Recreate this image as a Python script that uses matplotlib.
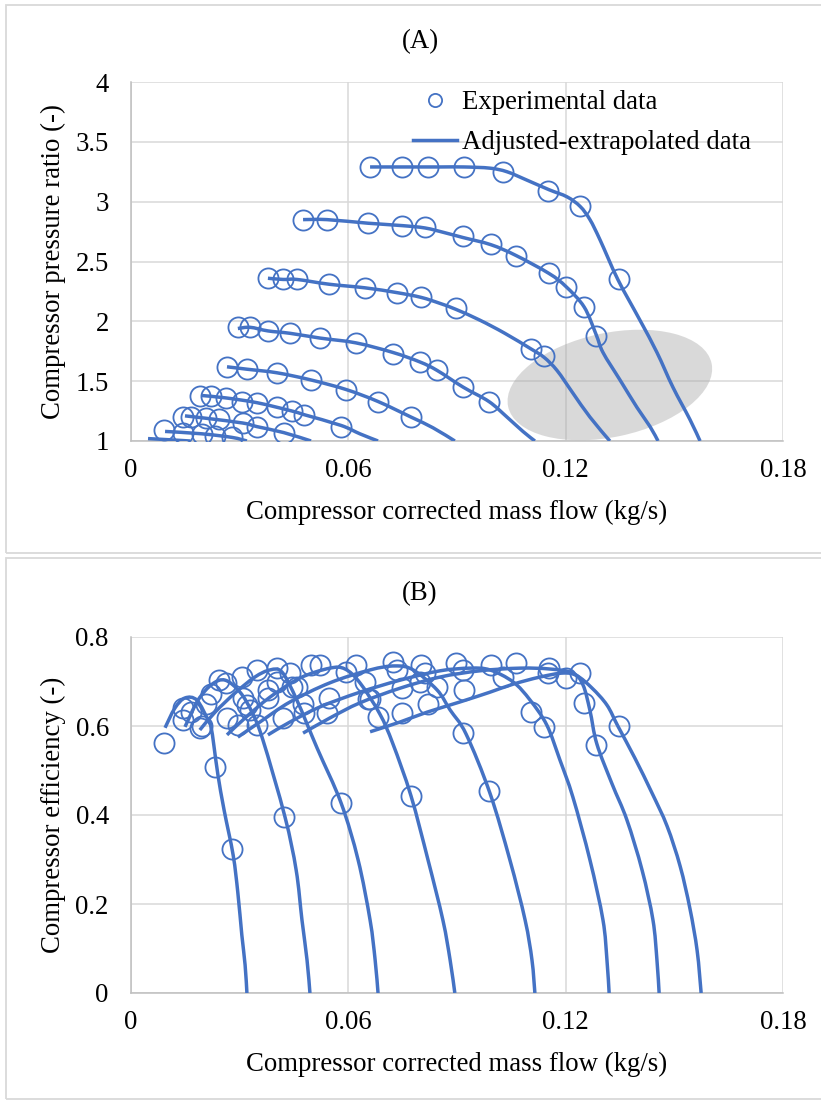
import matplotlib
matplotlib.use("Agg")
import matplotlib.pyplot as plt
from matplotlib.patches import Ellipse, Rectangle, PathPatch
from matplotlib.path import Path
from matplotlib.lines import Line2D
from matplotlib.transforms import Affine2D

plt.rcParams['font.family'] = ['Liberation Serif', 'DejaVu Serif']
plt.rcParams['font.size'] = 19.3

BLUE = '#4472C4'

# ---- (A) pressure ratio: fitted/extrapolated speed lines (top to bottom) ----
pr_line_x = [
    [0.0660, 0.0750, 0.0853, 0.0919, 0.0991, 0.1038, 0.1093, 0.1154, 0.1204, 0.1240,
     0.1267, 0.1295, 0.1344, 0.1405, 0.1452, 0.1496, 0.1543, 0.1571],
    [0.0475, 0.0541, 0.0654, 0.0748, 0.0812, 0.0867, 0.0917, 0.0994, 0.1063, 0.1154,
     0.1201, 0.1251, 0.1284, 0.1303, 0.1350, 0.1397, 0.1433, 0.1455],
    [0.0378, 0.0420, 0.0458, 0.0547, 0.0646, 0.0734, 0.0801, 0.0853, 0.0897, 0.0963,
     0.1032, 0.1104, 0.1140, 0.1176, 0.1220, 0.1267, 0.1322],
    [0.0295, 0.0329, 0.0378, 0.0439, 0.0522, 0.0621, 0.0723, 0.0798, 0.0845, 0.0917,
     0.0988, 0.1038, 0.1082, 0.1115],
    [0.0265, 0.0320, 0.0403, 0.0497, 0.0594, 0.0682, 0.0773, 0.0834, 0.0894],
    [0.0196, 0.0262, 0.0348, 0.0445, 0.0478, 0.0580, 0.0632, 0.0682],
    [0.0149, 0.0207, 0.0309, 0.0348, 0.0422, 0.0497],
    [0.0094, 0.0196, 0.0279, 0.0320],
    [0.0047, 0.0108, 0.0163],
]
pr_line_y = [
    [3.29, 3.29, 3.29, 3.29, 3.28, 3.25, 3.18, 3.10, 3.04, 2.96,
     2.85, 2.68, 2.35, 2.01, 1.74, 1.45, 1.18, 1.00],
    [2.85, 2.85, 2.82, 2.80, 2.78, 2.74, 2.70, 2.64, 2.55, 2.40,
     2.29, 2.12, 1.89, 1.74, 1.51, 1.28, 1.12, 1.00],
    [2.36, 2.35, 2.35, 2.31, 2.28, 2.24, 2.20, 2.15, 2.10, 2.01,
     1.90, 1.77, 1.70, 1.59, 1.40, 1.20, 1.00],
    [1.94, 1.95, 1.92, 1.90, 1.86, 1.82, 1.74, 1.66, 1.59, 1.45,
     1.33, 1.20, 1.08, 1.00],
    [1.62, 1.60, 1.57, 1.51, 1.43, 1.33, 1.20, 1.11, 1.00],
    [1.38, 1.36, 1.32, 1.25, 1.22, 1.13, 1.06, 1.00],
    [1.21, 1.19, 1.15, 1.12, 1.07, 1.00],
    [1.08, 1.06, 1.03, 1.00],
    [1.02, 1.01, 1.00],
]

# ---- experimental points (same mass flows in both panels) ----
exp_x = [
    [0.0660, 0.0748, 0.0820, 0.0919, 0.1027, 0.1151, 0.1239, 0.1347],
    [0.0475, 0.0541, 0.0654, 0.0748, 0.0812, 0.0917, 0.0994, 0.1063, 0.1154, 0.1201,
     0.1251, 0.1284],
    [0.0378, 0.0420, 0.0458, 0.0547, 0.0646, 0.0734, 0.0801, 0.0897, 0.1104, 0.1140],
    [0.0295, 0.0329, 0.0378, 0.0439, 0.0522, 0.0621, 0.0723, 0.0798, 0.0845, 0.0917,
     0.0988],
    [0.0265, 0.0320, 0.0403, 0.0497, 0.0594, 0.0682, 0.0773],
    [0.0190, 0.0221, 0.0262, 0.0306, 0.0348, 0.0403, 0.0445, 0.0478, 0.0580],
    [0.0144, 0.0166, 0.0207, 0.0243, 0.0309, 0.0348, 0.0422],
    [0.0091, 0.0144, 0.0196, 0.0232, 0.0279],
]
exp_pr = [
    [3.29, 3.29, 3.29, 3.29, 3.25, 3.09, 2.96, 2.35],
    [2.85, 2.85, 2.82, 2.80, 2.79, 2.71, 2.65, 2.55, 2.40, 2.29, 2.12, 1.88],
    [2.36, 2.35, 2.35, 2.31, 2.28, 2.24, 2.20, 2.11, 1.77, 1.71],
    [1.95, 1.95, 1.92, 1.90, 1.86, 1.82, 1.73, 1.66, 1.59, 1.45, 1.33],
    [1.62, 1.60, 1.57, 1.51, 1.43, 1.33, 1.20],
    [1.38, 1.38, 1.36, 1.33, 1.32, 1.28, 1.25, 1.22, 1.12],
    [1.20, 1.20, 1.19, 1.18, 1.15, 1.12, 1.07],
    [1.09, 1.07, 1.06, 1.04, 1.03],
]
exp_eff = [
    [0.66, 0.63, 0.65, 0.68, 0.71, 0.72, 0.72, 0.60],
    [0.65, 0.63, 0.66, 0.685, 0.72, 0.725, 0.737, 0.742, 0.73, 0.708, 0.652, 0.557],
    [0.663, 0.618, 0.688, 0.663, 0.699, 0.726, 0.737, 0.742, 0.631, 0.598],
    [0.602, 0.636, 0.68, 0.72, 0.737, 0.737, 0.744, 0.70, 0.688, 0.584, 0.454],
    [0.618, 0.647, 0.73, 0.737, 0.721, 0.62, 0.443],
    [0.596, 0.672, 0.697, 0.71, 0.726, 0.70, 0.688, 0.63, 0.427],
    [0.613, 0.631, 0.65, 0.703, 0.663, 0.602, 0.395],
    [0.562, 0.64, 0.60, 0.508, 0.324],
]

# ---- (B) efficiency: fitted/extrapolated speed lines ----
eff_line_x = [
    [0.0660, 0.0743, 0.0817, 0.0908, 0.0991, 0.1055, 0.1129, 0.1193, 0.1231, 0.1273,
     0.1314, 0.1344, 0.1391, 0.1438, 0.1480, 0.1516, 0.1543, 0.1563, 0.1574],
    [0.0475, 0.0549, 0.0632, 0.0743, 0.0853, 0.0963, 0.1074, 0.1157, 0.1220, 0.1248,
     0.1267, 0.1286, 0.1328, 0.1369, 0.1411, 0.1441, 0.1452, 0.1458],
    [0.0378, 0.0439, 0.0522, 0.0632, 0.0743, 0.0853, 0.0936, 0.0991, 0.1055, 0.1102,
     0.1148, 0.1184, 0.1220, 0.1267, 0.1303, 0.1314, 0.1320],
    [0.0295, 0.0356, 0.0439, 0.0549, 0.0660, 0.0729, 0.0779, 0.0845, 0.0881, 0.0925,
     0.0991, 0.1046, 0.1088, 0.1107, 0.1115],
    [0.0265, 0.0315, 0.0384, 0.0467, 0.0549, 0.0591, 0.0632, 0.0687, 0.0723, 0.0773,
     0.0820, 0.0861, 0.0881, 0.0894],
    [0.0190, 0.0232, 0.0287, 0.0342, 0.0384, 0.0417, 0.0458, 0.0514, 0.0580, 0.0627,
     0.0660, 0.0674, 0.0682],
    [0.0149, 0.0185, 0.0224, 0.0260, 0.0301, 0.0334, 0.0364, 0.0425, 0.0456, 0.0472,
     0.0486, 0.0494],
    [0.0094, 0.0121, 0.0149, 0.0182, 0.0213, 0.0221, 0.0229, 0.0240, 0.0257, 0.0282,
     0.0295, 0.0306, 0.0315, 0.0320],
]
eff_line_y = [
    [0.587, 0.609, 0.631, 0.654, 0.676, 0.694, 0.710, 0.719, 0.713, 0.685,
     0.647, 0.600, 0.528, 0.450, 0.375, 0.285, 0.190, 0.095, 0.0],
    [0.584, 0.618, 0.652, 0.685, 0.710, 0.724, 0.730, 0.728, 0.719, 0.692,
     0.635, 0.560, 0.470, 0.389, 0.276, 0.164, 0.074, 0.0],
    [0.580, 0.609, 0.643, 0.676, 0.703, 0.724, 0.730, 0.726, 0.699, 0.658,
     0.602, 0.524, 0.440, 0.299, 0.164, 0.074, 0.0],
    [0.575, 0.609, 0.654, 0.697, 0.726, 0.735, 0.726, 0.681, 0.636, 0.582,
     0.449, 0.299, 0.164, 0.074, 0.0],
    [0.580, 0.618, 0.665, 0.708, 0.730, 0.728, 0.697, 0.627, 0.560, 0.443,
     0.299, 0.164, 0.074, 0.0],
    [0.591, 0.631, 0.674, 0.710, 0.726, 0.721, 0.658, 0.550, 0.427, 0.299,
     0.164, 0.074, 0.0],
    [0.598, 0.658, 0.694, 0.703, 0.676, 0.631, 0.569, 0.396, 0.276, 0.164,
     0.074, 0.0],
    [0.596, 0.640, 0.663, 0.658, 0.613, 0.598, 0.555, 0.490, 0.411, 0.310,
     0.225, 0.130, 0.063, 0.0],
]

x_ticks = [0, 0.06, 0.12, 0.18]
x_tick_labels = ['0', '0.06', '0.12', '0.18']
pr_ticks = [1, 1.5, 2, 2.5, 3, 3.5, 4]
pr_tick_labels = ['1', '1.5', '2', '2.5', '3', '3.5', '4']
eff_ticks = [0, 0.2, 0.4, 0.6, 0.8]
eff_tick_labels = ['0', '0.2', '0.4', '0.6', '0.8']

W, H = 821, 1102
fig = plt.figure(figsize=(W / 100, H / 100), dpi=100)

# panel borders
for y0, y1 in [(5, 553), (558, 1099)]:
    fig.patches.append(Rectangle((6 / W, 1 - y1 / H), 1.2, (y1 - y0) / H,
                                 transform=fig.transFigure, fill=False,
                                 edgecolor='#d9d9d9', linewidth=1.3))

axA = fig.add_axes([131 / W, 1 - 441 / H, 652 / W, 359 / H])
axB = fig.add_axes([131 / W, 1 - 993 / H, 652 / W, 356 / H])


def style(ax, yt, ytl, ylim):
    ax.set_xlim(0, 0.18)
    ax.set_ylim(*ylim)
    ax.set_xticks(x_ticks)
    ax.set_xticklabels(x_tick_labels)
    ax.set_yticks(yt)
    ax.set_yticklabels(ytl)
    ax.tick_params(length=0)
    ax.tick_params(axis='y', pad=16)
    ax.tick_params(axis='x', pad=12)
    ax.grid(True, color='#d9d9d9', linewidth=1.1)
    ax.set_axisbelow(True)
    for s in ['top', 'right']:
        ax.spines[s].set_visible(False)
    for s in ['left', 'bottom']:
        ax.spines[s].set_color('#bfbfbf')
        ax.spines[s].set_linewidth(1.1)
    ax.set_xlabel('Compressor corrected mass flow (kg/s)')


def smooth_line(ax, xs, ys):
    # Excel-like smoothed line: cubic Bezier segments through the points
    pts = list(zip(xs, ys))
    n = len(pts)
    verts = [pts[0]]
    codes = [Path.MOVETO]
    for i in range(n - 1):
        p0 = pts[i - 1] if i > 0 else pts[i]
        p1, p2 = pts[i], pts[i + 1]
        p3 = pts[i + 2] if i + 2 < n else pts[i + 1]
        c1 = (p1[0] + (p2[0] - p0[0]) / 6, p1[1] + (p2[1] - p0[1]) / 6)
        c2 = (p2[0] - (p3[0] - p1[0]) / 6, p2[1] - (p3[1] - p1[1]) / 6)
        verts += [c1, c2, p2]
        codes += [Path.CURVE4] * 3
    ax.add_patch(PathPatch(Path(verts, codes), fill=False, edgecolor=BLUE,
                           linewidth=2.5, capstyle='butt', zorder=4))


style(axA, pr_ticks, pr_tick_labels, (1, 4))
style(axB, eff_ticks, eff_tick_labels, (0, 0.8))
axA.xaxis.set_label_coords(0.5, -0.165)
axB.xaxis.set_label_coords(0.5, -0.165)
axA.set_ylabel('Compressor pressure ratio (-)')
axB.set_ylabel('Compressor efficiency (-)')
axA.yaxis.set_label_coords(-0.100, 0.5)
axB.yaxis.set_label_coords(-0.100, 0.5)

# shaded region of extrapolated data (drawn in reference-pixel units)
px_x = 0.18 / 652
px_y = 3.0 / 359
ell = Ellipse((0, 0), 208, 104, angle=12, facecolor='#a6a6a6', alpha=0.42,
              edgecolor='none', zorder=1.5)
ell.set_transform(Affine2D().scale(px_x, px_y).translate(0.1322, 1.468) + axA.transData)
axA.add_patch(ell)

mk = dict(linestyle='none', marker='o', markersize=14.5, markerfacecolor='none',
          markeredgecolor=BLUE, markeredgewidth=1.3, zorder=3)

for i in range(len(exp_x)):
    axA.plot(exp_x[i], exp_pr[i], **mk)
    axB.plot(exp_x[i], exp_eff[i], **mk)
for i in range(len(pr_line_x)):
    smooth_line(axA, pr_line_x[i], pr_line_y[i])
for i in range(len(eff_line_x)):
    smooth_line(axB, eff_line_x[i], eff_line_y[i])

handles = [
    Line2D([], [], linestyle='none', marker='o', markersize=9.5, markerfacecolor='none',
           markeredgecolor=BLUE, markeredgewidth=1.3),
    Line2D([], [], color=BLUE, linewidth=2.5),
]
axA.legend(handles, ['Experimental data', 'Adjusted-extrapolated data'],
           loc='upper left', bbox_to_anchor=(0.432, 0.978), frameon=False,
           borderaxespad=0, borderpad=0, handlelength=1.65, handletextpad=0.18,
           labelspacing=0.58)

fig.text(420 / W, 1 - 42 / H, '(A)', ha='center', va='center')
fig.text(420 / W, 1 - 594 / H, '(B)', ha='center', va='center')

fig.savefig('out.png', dpi=100)
